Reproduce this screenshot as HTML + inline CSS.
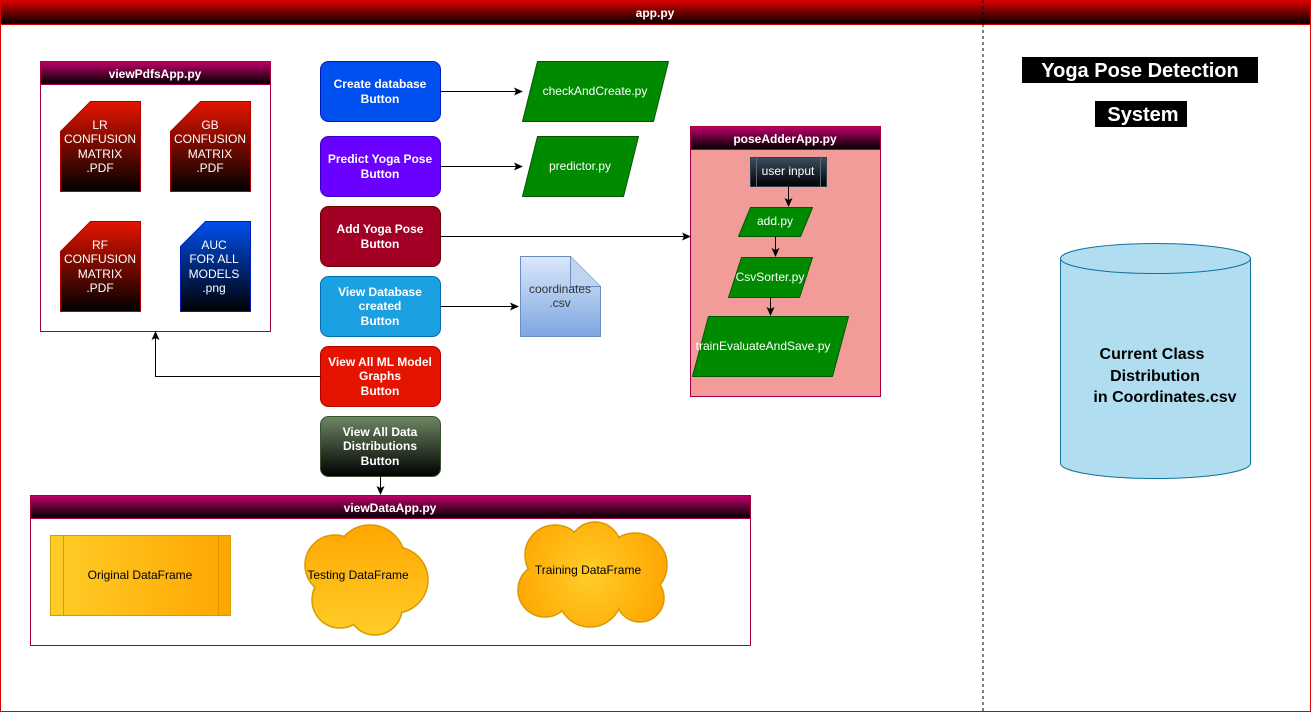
<!DOCTYPE html>
<html><head><meta charset="utf-8"><style>
html,body{margin:0;padding:0;background:#fff}
svg{display:block;font-family:"Liberation Sans",Arial,sans-serif}
</style></head><body>
<svg width="1311" height="713" viewBox="0 0 1311 713" xmlns="http://www.w3.org/2000/svg">
<defs>
<linearGradient id="hr" x1="0" y1="0" x2="0" y2="1"><stop offset="0" stop-color="#d80000"/><stop offset="1" stop-color="#000"/></linearGradient>
<linearGradient id="hm" x1="0" y1="0" x2="0" y2="1"><stop offset="0" stop-color="#c0006a"/><stop offset="1" stop-color="#000"/></linearGradient>
<linearGradient id="dr" x1="0" y1="0" x2="0" y2="1"><stop offset="0" stop-color="#e51400"/><stop offset="1" stop-color="#000"/></linearGradient>
<linearGradient id="db" x1="0" y1="0" x2="0" y2="1"><stop offset="0" stop-color="#0050ef"/><stop offset="1" stop-color="#000"/></linearGradient>
<linearGradient id="dg" x1="0" y1="0" x2="0" y2="1"><stop offset="0" stop-color="#6d8764"/><stop offset="1" stop-color="#000"/></linearGradient>
<linearGradient id="ui" x1="0" y1="0" x2="0" y2="1"><stop offset="0" stop-color="#3c4e60"/><stop offset="1" stop-color="#000"/></linearGradient>
<linearGradient id="yo" x1="0" y1="0" x2="1" y2="0"><stop offset="0" stop-color="#ffcd28"/><stop offset="1" stop-color="#ffa500"/></linearGradient>
<linearGradient id="yv" gradientUnits="userSpaceOnUse" x1="0" y1="522" x2="0" y2="636"><stop offset="0" stop-color="#ffa500"/><stop offset="1" stop-color="#ffcd28"/></linearGradient>
<radialGradient id="yr" gradientUnits="userSpaceOnUse" cx="590" cy="575" r="80"><stop offset="0" stop-color="#ffcd28"/><stop offset="1" stop-color="#ffa500"/></radialGradient>
<linearGradient id="csv" x1="0" y1="0" x2="0" y2="1"><stop offset="0" stop-color="#dae8fc"/><stop offset="1" stop-color="#7ea6e0"/></linearGradient>
<marker id="a" markerWidth="10" markerHeight="10" refX="8" refY="5" orient="auto" markerUnits="userSpaceOnUse"><path d="M0,1 L9,5 L0,9 L2,5 Z" fill="#000"/></marker>
</defs>

<rect x="0.5" y="0.5" width="1310" height="711" fill="#fff" stroke="#d80000"/>
<rect x="0.5" y="0.5" width="1310" height="24" fill="url(#hr)" stroke="#d80000"/>
<text x="655" y="17" fill="#fff" font-size="12" font-weight="bold" text-anchor="middle">app.py</text>
<line x1="983" y1="0" x2="983" y2="712" stroke="#000" stroke-dasharray="3,3"/>

<rect x="40.5" y="61.5" width="230" height="270" fill="#fff" stroke="#a50040"/>
<rect x="40.5" y="61.5" width="230" height="23" fill="url(#hm)" stroke="#a50040"/>
<text x="155" y="78" fill="#fff" font-size="12" font-weight="bold" text-anchor="middle">viewPdfsApp.py</text>
<g font-size="12" fill="#fff" text-anchor="middle">
<path d="M60.5,131.5 L90.5,101.5 L140.5,101.5 L140.5,191.5 L60.5,191.5 Z" fill="url(#dr)" stroke="#b20000"/>
<text x="100" y="129">LR</text><text x="100" y="143">CONFUSION</text><text x="100" y="158">MATRIX</text><text x="100" y="172">.PDF</text>
<path d="M170.5,131.5 L200.5,101.5 L250.5,101.5 L250.5,191.5 L170.5,191.5 Z" fill="url(#dr)" stroke="#b20000"/>
<text x="210" y="129">GB</text><text x="210" y="143">CONFUSION</text><text x="210" y="158">MATRIX</text><text x="210" y="172">.PDF</text>
<path d="M60.5,251.5 L90.5,221.5 L140.5,221.5 L140.5,311.5 L60.5,311.5 Z" fill="url(#dr)" stroke="#b20000"/>
<text x="100" y="249">RF</text><text x="100" y="263">CONFUSION</text><text x="100" y="278">MATRIX</text><text x="100" y="292">.PDF</text>
<path d="M180.5,246.5 L205.5,221.5 L250.5,221.5 L250.5,311.5 L180.5,311.5 Z" fill="url(#db)" stroke="#001dbc"/>
<text x="214" y="249">AUC</text><text x="214" y="263">FOR ALL</text><text x="214" y="278">MODELS</text><text x="214" y="292">.png</text>
</g>

<g font-size="12" font-weight="bold" fill="#fff" text-anchor="middle">
<rect x="320.5" y="61.5" width="120" height="60" rx="8" fill="#0050ef" stroke="#001dbc"/>
<text x="380" y="88">Create database</text><text x="380" y="103">Button</text>
<rect x="320.5" y="136.5" width="120" height="60" rx="8" fill="#6a00ff" stroke="#3700cc"/>
<text x="380" y="163">Predict Yoga Pose</text><text x="380" y="178">Button</text>
<rect x="320.5" y="206.5" width="120" height="60" rx="8" fill="#a20025" stroke="#6f0000"/>
<text x="380" y="233">Add Yoga Pose</text><text x="380" y="248">Button</text>
<rect x="320.5" y="276.5" width="120" height="60" rx="8" fill="#1ba1e2" stroke="#006eaf"/>
<text x="380" y="296">View Database</text><text x="380" y="310">created</text><text x="380" y="325">Button</text>
<rect x="320.5" y="346.5" width="120" height="60" rx="8" fill="#e51400" stroke="#b20000"/>
<text x="380" y="366">View All ML Model</text><text x="380" y="380">Graphs</text><text x="380" y="395">Button</text>
<rect x="320.5" y="416.5" width="120" height="60" rx="8" fill="url(#dg)" stroke="#3a5431"/>
<text x="380" y="436">View All Data</text><text x="380" y="450">Distributions</text><text x="380" y="465">Button</text>
</g>

<g font-size="12" fill="#fff" text-anchor="middle" stroke-linejoin="round">
<path d="M537.5,61.5 L668.5,61.5 L653.5,121.5 L522.5,121.5 Z" fill="#008a00" stroke="#005700"/>
<text x="595" y="95">checkAndCreate.py</text>
<path d="M537.5,136.5 L638.5,136.5 L623.5,196.5 L522.5,196.5 Z" fill="#008a00" stroke="#005700"/>
<text x="580" y="170">predictor.py</text>
</g>

<path d="M520.5,256.5 L570.5,256.5 L600.5,286.5 L600.5,336.5 L520.5,336.5 Z" fill="url(#csv)" stroke="#6c8ebf"/>
<path d="M570.5,256.5 L570.5,286.5 L600.5,286.5" fill="#c0d4ef" stroke="#6c8ebf"/>
<text x="560" y="293" font-size="12" fill="#333" text-anchor="middle">coordinates</text>
<text x="560" y="307" font-size="12" fill="#333" text-anchor="middle">.csv</text>

<rect x="690.5" y="126.5" width="190" height="270" fill="#f19c99" stroke="#a50040"/>
<rect x="690.5" y="126.5" width="190" height="23" fill="url(#hm)" stroke="#a50040"/>
<text x="785" y="143" fill="#fff" font-size="12" font-weight="bold" text-anchor="middle">poseAdderApp.py</text>
<rect x="750.5" y="157.5" width="76" height="29" fill="url(#ui)" stroke="#2f4050"/>
<line x1="756.5" y1="157.5" x2="756.5" y2="186.5" stroke="#5a6b7c"/>
<line x1="820.5" y1="157.5" x2="820.5" y2="186.5" stroke="#5a6b7c"/>
<text x="788" y="175" fill="#fff" font-size="12" text-anchor="middle">user input</text>
<g font-size="12" fill="#fff" text-anchor="middle" stroke-linejoin="round">
<path d="M750.5,207.5 L812.5,207.5 L800.5,236.5 L738.5,236.5 Z" fill="#008a00" stroke="#005700"/>
<text x="775" y="225">add.py</text>
<path d="M741.5,257.5 L812.5,257.5 L799.5,297.5 L728.5,297.5 Z" fill="#008a00" stroke="#005700"/>
<text x="770" y="281">CsvSorter.py</text>
<path d="M708.5,316.5 L848.5,316.5 L832.5,376.5 L692.5,376.5 Z" fill="#008a00" stroke="#005700"/>
<text x="763" y="350">trainEvaluateAndSave.py</text>
</g>

<g stroke="#000" fill="none" marker-end="url(#a)">
<line x1="440.5" y1="91.5" x2="522" y2="91.5"/>
<line x1="440.5" y1="166.5" x2="522" y2="166.5"/>
<line x1="440.5" y1="236.5" x2="690" y2="236.5"/>
<line x1="440.5" y1="306.5" x2="518" y2="306.5"/>
<polyline points="320.5,376.5 155.5,376.5 155.5,332"/>
<line x1="380.5" y1="476.5" x2="380.5" y2="494"/>
<line x1="788.5" y1="186.5" x2="788.5" y2="206"/>
<line x1="775.5" y1="236.5" x2="775.5" y2="256"/>
<line x1="770.5" y1="297.5" x2="770.5" y2="315"/>
</g>

<rect x="30.5" y="495.5" width="720" height="150" fill="#fff" stroke="#a50040"/>
<rect x="30.5" y="495.5" width="720" height="23" fill="url(#hm)" stroke="#a50040"/>
<text x="390" y="512" fill="#fff" font-size="12" font-weight="bold" text-anchor="middle">viewDataApp.py</text>
<rect x="50.5" y="535.5" width="180" height="80" fill="url(#yo)" stroke="#d79b00"/>
<line x1="63.5" y1="535.5" x2="63.5" y2="615.5" stroke="#d79b00"/>
<line x1="218.5" y1="535.5" x2="218.5" y2="615.5" stroke="#d79b00"/>
<text x="140" y="579" font-size="12" fill="#000" text-anchor="middle">Original DataFrame</text>

<g stroke="#d79b00" stroke-width="1.5" fill="url(#yv)">
<circle cx="370" cy="560" r="35"/><circle cx="335" cy="565" r="30"/><circle cx="395" cy="580" r="33"/>
<circle cx="340" cy="600" r="28"/><circle cx="375" cy="608" r="27"/><circle cx="360" cy="585" r="35"/>
</g>
<g fill="url(#yv)">
<circle cx="370" cy="560" r="34"/><circle cx="335" cy="565" r="29"/><circle cx="395" cy="580" r="32"/>
<circle cx="340" cy="600" r="27"/><circle cx="375" cy="608" r="26"/><circle cx="360" cy="585" r="35"/>
</g>
<text x="358" y="579" font-size="12" fill="#000" text-anchor="middle">Testing DataFrame</text>
<g stroke="#d79b00" stroke-width="1.5" fill="url(#yr)">
<circle cx="555" cy="555" r="30"/><circle cx="595" cy="548" r="26"/><circle cx="635" cy="565" r="32"/>
<circle cx="545" cy="590" r="27"/><circle cx="590" cy="595" r="32"/><circle cx="640" cy="598" r="24"/>
</g>
<g fill="url(#yr)">
<circle cx="555" cy="555" r="29"/><circle cx="595" cy="548" r="25"/><circle cx="635" cy="565" r="31"/>
<circle cx="545" cy="590" r="26"/><circle cx="590" cy="595" r="31"/><circle cx="640" cy="598" r="23"/>
<circle cx="590" cy="575" r="35"/>
</g>
<text x="588" y="574" font-size="12" fill="#000" text-anchor="middle">Training DataFrame</text>

<rect x="1022" y="57" width="236" height="26" fill="#000"/>
<text x="1140" y="77" font-size="20" font-weight="bold" fill="#fff" text-anchor="middle">Yoga Pose Detection</text>
<rect x="1095" y="101" width="92" height="26" fill="#000"/>
<text x="1143" y="121" font-size="20" font-weight="bold" fill="#fff" text-anchor="middle">System</text>

<path d="M1060.5,258.5 L1060.5,463.5 A95,15 0 0 0 1250.5,463.5 L1250.5,258.5" fill="#b1ddf0" stroke="#10739e"/>
<ellipse cx="1155.5" cy="258.5" rx="95" ry="15" fill="#b1ddf0" stroke="#10739e"/>
<g font-size="16" font-weight="bold" fill="#000" text-anchor="middle">
<text x="1152" y="359">Current Class</text><text x="1155" y="381">Distribution</text><text x="1165" y="402">in Coordinates.csv</text>
</g>
</svg>
</body></html>
